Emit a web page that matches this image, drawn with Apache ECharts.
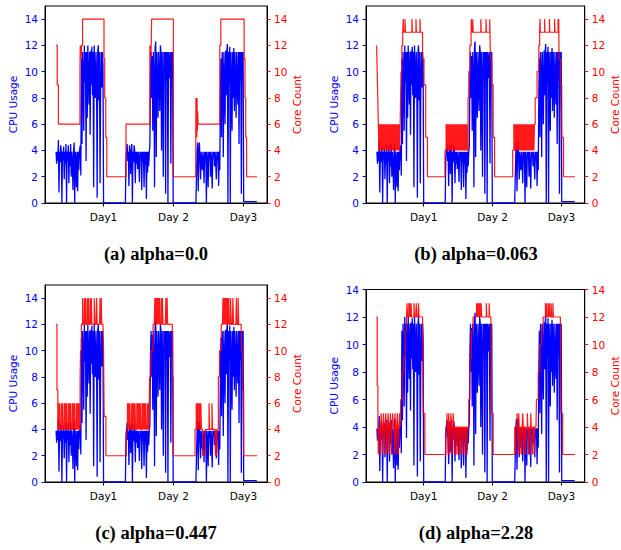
<!DOCTYPE html>
<html>
<head>
<meta charset="utf-8">
<script src="https://cdn.jsdelivr.net/npm/echarts@6/dist/echarts.min.js"></script>
<style>html,body{margin:0;padding:0;background:#fff}#c{width:621px;height:550px}</style>
</head>
<body>
<div id="c"></div>
<script>
// ---------- data ----------
const STEP = 0.2; // hours between samples in the sampled pieces
const dayTicks = [24, 48, 72];
const dayLabels = ['Day1', 'Day 2', 'Day3'];
const yTicks = [0, 2, 4, 6, 8, 10, 12, 14];
const yMax = [15, 15, 15, 14];
const captions = ['(a) alpha=0.0', '(b) alpha=0.063', '(c) alpha=0.447', '(d) alpha=2.28'];

// CPU usage (same trace in every panel)
const cpuDay1Low = [3.9,3.0,3.9,3.2,4.8,0.8,3.9,3.1,4.4,3.9,0.0,3.9,3.3,4.3,1.8,3.9,3.0,4.5,0.0,3.9,3.2,4.4,1.5,3.9,2.8,4.5,2.0,3.9,3.1,1.0,3.9,4.6,0.0,3.9,3.3,1.2,3.9,0.9,3.9,2.5,3.9];
const cpuDay1High = [4.4,2.1,11.0,4.5,11.5,9.8,5.5,12.0,9.2,11.5,3.2,11.5,6.5,12.0,9.5,7.5,11.5,5.2,11.6,9.0,11.9,8.2,11.5,1.2,12.0,9.4,8.0,11.5,9.6,0.4,11.5,12.0,7.8,11.5,1.5,9.0,11.5,8.8,11.5,10.5,0];
const cpuDay2Low = [3.5,3.9,4.5,3.2,3.9,1.3,4.4,3.9,2.2,3.9,4.5,0.0,3.9,3.1,4.4,3.9,1.5,3.9,3.0,3.9,2.6,3.9,3.2,1.6,3.9,3.4,3.9,1.0,3.9,3.1,3.9,1.2,3.9,2.9,3.9,0.3,3.9,2.3,3.9,2.8,3.9];
const cpuDay2High = [4.3,9.5,11.5,8.0,11.2,5.5,11.5,9.4,1.2,11.8,12.3,3.5,11.5,9.0,6.5,11.5,9.6,7.0,12.0,11.5,4.0,11.5,9.2,2.0,11.5,10.0,11.5,0.7,11.5,9.3,11.5,0.0,11.5,9.5,11.0,11.5,3.0,11.5,9.6,11.5,0];
const cpuDay3Low = [0.0,3.9,4.6,0.9,3.9,4.6,3.2,1.8,3.9,3.0,2.5,3.9,3.3,1.5,3.9,3.1,3.9,0.0,3.9,3.2,1.2,3.9,3.4,3.9,2.0,3.9,3.0,1.1,3.9,3.5,3.9,2.8,3.9,3.1,1.8,3.9,3.2,3.9,1.3,3.9,2.5];
const cpuDay3High = [8.0,11.0,5.0,11.5,9.8,3.5,11.5,9.0,6.0,11.6,8.2,11.5,12.1,0.0,11.5,9.2,11.9,0.0,11.5,9.5,5.5,11.5,8.0,11.8,7.0,11.5,9.4,6.5,11.5,9.0,7.5,11.5,4.5,11.5,9.3,11.5,0.7,11.5,9.5,11.5,0.1];
const cpuIdle1 = [[31.5, 0]];
const cpuIdle2 = [[55.7, 0]];
const cpuTail = [[76.6, 0.1]];

// Core count (a) alpha=0.0 : change points
const coreA = [[7.7,12],[8.1,9],[8.5,6],[15.9,10],[16.0,12],[16.1,11],[16.2,12],[16.3,11],[16.45,12],[16.8,14],[24.15,11],[24.4,8],[24.75,5],[25.1,2],[31.7,6],[39.9,12],[40.0,11],[40.1,12],[40.25,11],[40.35,12],[40.5,14],[47.95,2],[55.65,4],[55.7,8],[55.8,5],[55.9,8],[56.0,5],[56.1,8],[56.2,5.5],[56.3,7],[56.45,6],[63.9,12],[64.25,14],[72.25,11],[72.55,8],[72.8,5],[73.1,2],[76.7,2]];

// Core count (b) alpha=0.063
const coreBStart = [[7.6,12],[7.8,10],[8.0,8],[8.2,6]];
const coreBFill1 = [4,6,4,6,4,6,4,6,4,6,4,6,4,6,4,6,4,6,4,6,4,6,4,6,4,6,4,6,4,6,4,6,4,6,4,6,4,6];
const coreBDay1 = [[15.95,8],[16.1,10],[16.4,12],[16.7,13],[16.9,14],[17.05,13],[17.5,14],[17.65,13],[19.9,14],[20.05,13],[21.3,14],[21.45,13],[22.7,14],[22.85,13],[23.6,11],[24.1,9],[24.7,5],[25.3,2],[31.4,4]];
const coreBFill2 = [6,4,6,4,6,4,6,4,6,4,6,4,6,4,6,4,6,4,6,4,6,4,6,4,6,4,6,4,6,4,6,4,6,4,6,4,6,4];
const coreBDay2 = [[39.45,8],[39.7,10],[40.1,12],[40.5,13],[40.6,14],[40.75,13],[41.1,14],[41.25,13],[43.9,14],[44.05,13],[45.7,14],[45.85,13],[47.0,14],[47.1,13],[47.25,11],[47.7,9],[48.2,5],[48.7,2],[55.0,4]];
const coreBFill3 = [6,4,6,4,6,4,6,4,6,4,6,4,6,4,6,4,6,4,6,4,6,4,6,4,6,4,6,4,6,4,6,4,6,4,6,4,6];
const coreBDay3 = [[62.85,8],[63.5,10],[64.1,12],[64.4,13],[64.5,14],[64.65,13],[66.1,14],[66.25,13],[67.8,14],[67.95,13],[69.6,14],[69.75,13],[70.8,14],[70.95,13],[71.05,14],[71.15,11],[71.6,9],[72.1,5],[72.7,2],[76.7,2]];

// Core count (c) alpha=0.447
const coreCStart = [[7.7,12],[8.0,7],[8.3,4]];
const coreCLow1 = [6,4,6,4,4,6,4,6,4,4,6,4,6,4,6,4,4,6,4,6,4,6,4,4,6,4,6,4,6,4,4,6,4,6,4,6,4];
const coreCRise1 = [[15.95,8],[16.1,10],[16.4,12]];
const coreCTop1 = [12,14,12,12,14,12,14,12,12,14,12,14,12,12,14,12,14,12,12,12,12,14,12,12,12,14,12,12,12,12,12,14,12,14,12,12,12];
const coreCMid1 = [[24.0,10],[24.2,5],[24.8,2],[31.8,4]];
const coreCLow2 = [6,4,6,4,6,4,4,6,4,6,4,6,4,6,4,4,6,4,6,4,6,4,6,4,4,6,4,6,4,6,4,6,4,4,6,4,6,4];
const coreCRise2 = [[39.8,8],[40.3,10],[41.0,12]];
const coreCTop2 = [12,12,14,12,14,12,14,12,14,12,14,12,12,14,12,14,12,12,12,12,12,14,12,14,12,12,12,12,12,12,12,12];
const coreCMid2 = [[47.6,8],[47.9,2]];
const coreCLow3 = [4,4,6,4,6,4,6,4,6,4,6,4,4,2,2,2,2,2,4,4,4,4,4,4,6,4,4,4,4,6,4,4,4,4,4,2,4,2,4,4];
const coreCRise3 = [[63.4,8],[63.8,10],[64.4,12]];
const coreCTop3 = [12,12,14,12,14,12,14,12,14,12,14,12,14,12,12,14,12,12,12,14,12,12,12,12,12,14,12,12,14,12,12,12,12,12];
const coreCEnd = [[71.4,10],[71.7,7],[72.1,2],[76.7,2]];

// Core count (d) alpha=2.28
const coreDStart = [[7.5,12],[7.8,7],[8.05,4]];
const coreDLow1 = [2,4,4,2,4,5,4,2,4,5,4,2,4,5,4,2,4,5,4,2,4,5,4,2,4,5,4,4,2,5,4,2,4,5,4,2,4,5,4];
const coreDRise1 = [[16.0,6],[16.5,8],[17.0,9],[17.5,11],[18.0,12]];
const coreDTop1 = [13,12,12,13,12,13,12,13,12,12,12,12,13,12,12,12,13,12,12,12,13,12,12,12,12,12,12,12];
const coreDMid1 = [[23.8,5],[24.4,2],[31.7,4]];
const coreDLow2 = [4,5,4,2,5,4,2,4,5,4,2,4,5,4,2,4,4,2,4,4,2,4,4,2,4,4,2,4,4,2,4,4,4,2,4,4,2,4,4];
const coreDRise2 = [[39.7,6],[40.1,9],[40.6,11],[41.2,12]];
const coreDTop2 = [12,12,12,12,12,13,12,13,12,13,12,13,12,13,12,12,12,12,12,12,12,12,13,12,12,12,12,13,12,12,12];
const coreDMid2 = [[47.6,5],[48.2,2],[55.7,4]];
const coreDLow3 = [2,4,4,5,4,2,5,4,2,4,4,2,4,5,4,2,4,4,2,4,4,5,4,2,4,4,2,5,4,4,2,4,4,2,4,4,4];
const coreDRise3 = [[63.3,6],[63.9,8],[64.5,10],[65.1,11],[65.6,12]];
const coreDTop3 = [12,12,12,13,12,13,12,12,13,12,13,12,12,13,12,12,13,12,12,12,12,12,12,12,12,12,12,12,12,12];
const coreDEnd = [[71.8,5],[72.4,2],[76.7,2]];

// ---------- assembly ----------
function seq(start, values) {
  return values.map((v, i) => [Math.round((start + i * STEP) * 100) / 100, v]);
}
const cpu = [].concat(
  seq(7.7, cpuDay1Low), seq(16.0, cpuDay1High), cpuIdle1,
  seq(31.7, cpuDay2Low), seq(39.9, cpuDay2High), cpuIdle2,
  seq(55.9, cpuDay3Low), seq(64.1, cpuDay3High), cpuTail
);
const cores = [
  coreA,
  [].concat(coreBStart, seq(8.4, coreBFill1), coreBDay1, seq(31.8, coreBFill2), coreBDay2, seq(55.4, coreBFill3), coreBDay3),
  [].concat(coreCStart, seq(8.5, coreCLow1), coreCRise1, seq(16.6, coreCTop1), coreCMid1, seq(32.2, coreCLow2), coreCRise2, seq(41.2, coreCTop2), coreCMid2, seq(55.4, coreCLow3), coreCRise3, seq(64.6, coreCTop3), coreCEnd),
  [].concat(coreDStart, seq(8.2, coreDLow1), coreDRise1, seq(18.2, coreDTop1), coreDMid1, seq(31.9, coreDLow2), coreDRise2, seq(41.4, coreDTop2), coreDMid2, seq(55.9, coreDLow3), coreDRise3, seq(65.8, coreDTop3), coreDEnd)
];

// ---------- layout ----------
const grids = [
  {left: 45, top: 6, width: 222, height: 197},
  {left: 366, top: 6, width: 221, height: 197},
  {left: 45, top: 285, width: 222, height: 197},
  {left: 366, top: 289.5, width: 221, height: 192.5}
];
const capPos = [[156, 254], [476, 254], [156, 533], [476, 533]];
const FONT = 'DejaVu Sans';
const BLUE = '#0000ff', RED = '#ff0000';

const option = {
  animation: false,
  backgroundColor: '#fff',
  grid: grids.map(g => Object.assign({show: true, borderColor: '#000', borderWidth: 1, containLabel: false}, g)),
  xAxis: grids.map((g, i) => ({
    gridIndex: i, type: 'value', min: 3.9, max: 80.1,
    axisLine: {show: true, onZero: false, lineStyle: {color: '#000', width: 1}},
    axisTick: {show: true, customValues: dayTicks, length: 3.5, lineStyle: {color: '#000'}},
    axisLabel: {customValues: dayTicks, formatter: v => dayLabels[dayTicks.indexOf(v)], color: '#000', fontSize: 10.5, fontFamily: FONT, margin: 8},
    splitLine: {show: false}
  })),
  yAxis: [],
  series: [],
  graphic: captions.map((t, i) => ({
    type: 'text', x: capPos[i][0], y: capPos[i][1],
    style: {text: t, align: 'center', verticalAlign: 'middle', fontFamily: 'Liberation Serif', fontWeight: 'bold', fontSize: 18.5, fill: '#000'}
  }))
};

grids.forEach((g, i) => {
  option.yAxis.push({
    gridIndex: i, type: 'value', position: 'left', min: 0, max: yMax[i],
    name: 'CPU Usage', nameLocation: 'middle', nameGap: 27,
    nameTextStyle: {color: BLUE, fontSize: 10.5, fontFamily: FONT},
    axisLine: {show: true, lineStyle: {color: '#000', width: 1}},
    axisTick: {show: true, customValues: yTicks, length: 3.5, lineStyle: {color: BLUE}},
    axisLabel: {customValues: yTicks, color: BLUE, fontSize: 10.5, fontFamily: FONT, margin: 7},
    splitLine: {show: false}
  });
  option.yAxis.push({
    gridIndex: i, type: 'value', position: 'right', min: 0, max: yMax[i],
    name: 'Core Count', nameLocation: 'middle', nameGap: 24,
    nameTextStyle: {color: RED, fontSize: 10.5, fontFamily: FONT},
    axisLine: {show: true, lineStyle: {color: '#000', width: 1}},
    axisTick: {show: true, customValues: yTicks, length: 3.5, lineStyle: {color: RED}},
    axisLabel: {customValues: yTicks, color: RED, fontSize: 10.5, fontFamily: FONT, margin: 7},
    splitLine: {show: false}
  });
  option.series.push({
    type: 'line', xAxisIndex: i, yAxisIndex: 2 * i, data: cpu,
    showSymbol: false, symbol: 'none', sampling: null, z: 2,
    lineStyle: {color: BLUE, width: 1.3}
  });
  option.series.push({
    type: 'line', xAxisIndex: i, yAxisIndex: 2 * i + 1, data: cores[i], step: 'end',
    showSymbol: false, symbol: 'none', z: 3,
    lineStyle: {color: RED, width: 1.2, opacity: 0.9}
  });
});

const chart = echarts.init(document.getElementById('c'), null, {renderer: 'svg', width: 621, height: 550});
chart.setOption(option);
</script>
</body>
</html>
